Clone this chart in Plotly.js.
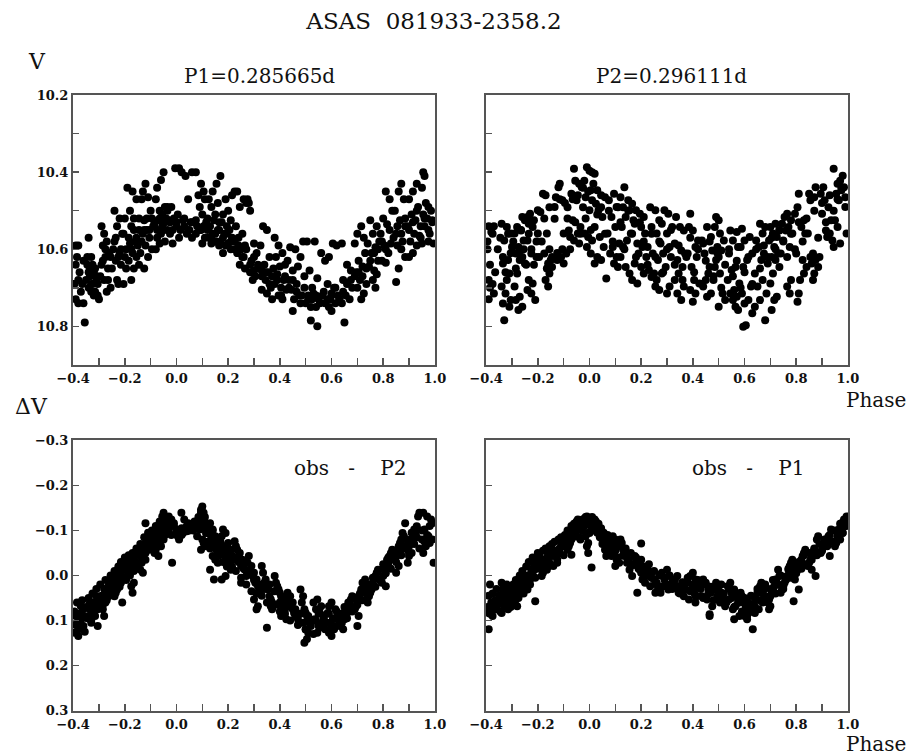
<!DOCTYPE html>
<html>
<head>
<meta charset="utf-8">
<script src="https://cdn.plot.ly/plotly-3.0.1.min.js"></script>
<style>html,body{margin:0;padding:0;background:#fff}#chart{width:918px;height:755px}</style>
</head>
<body>
<div id="chart"></div>
<script>
// ---- Data ----
const mainTitle = "ASAS\u00a0\u00a0081933-2358.2";
const panelTitles = ["P1=0.285665d", "P2=0.296111d", "obs\u00a0\u00a0\u00a0-\u00a0\u00a0\u00a0\u00a0P2", "obs\u00a0\u00a0\u00a0-\u00a0\u00a0\u00a0\u00a0P1"];

// Panel 1: V folded with P1
const p1Phase = [
-0.39,-0.38,-0.39,-0.38,-0.39,-0.38,-0.36,-0.37,-0.355,
-0.34,-0.33,-0.345,-0.32,-0.335,-0.31,-0.325,-0.34,-0.315,-0.33,-0.305,-0.32,-0.30,-0.31,-0.335,-0.345,
-0.29,-0.28,-0.27,-0.285,-0.26,-0.275,-0.29,-0.25,-0.265,-0.28,-0.255,-0.27,
-0.19,-0.24,-0.22,-0.20,-0.23,-0.21,-0.24,-0.22,-0.2,-0.235,-0.215,-0.195,-0.23,-0.225,-0.205,
-0.17,-0.155,-0.18,-0.165,-0.145,-0.175,-0.16,-0.18,-0.15,-0.17,-0.155,-0.185,-0.145,-0.165,-0.175,
-0.12,-0.13,-0.11,-0.135,-0.1,-0.125,-0.09,-0.115,-0.13,-0.105,-0.12,-0.095,-0.14,-0.11,-0.125,
-0.05,-0.06,-0.075,-0.08,-0.045,-0.065,-0.055,-0.04,-0.07,-0.085,-0.05,-0.06,-0.075,-0.045,-0.065,-0.08,
-0.005,0.01,-0.02,-0.035,0.005,-0.01,-0.03,0.0,-0.025,0.01,-0.015,-0.035,
0.02,0.035,0.06,0.045,0.025,0.055,0.03,0.05,0.04,0.06,
0.075,0.095,0.105,0.085,0.11,0.09,0.1,0.075,0.115,0.08,0.095,0.11,0.1,
0.155,0.14,0.125,0.16,0.135,0.15,0.12,0.145,0.165,0.13,0.16,0.14,0.125,0.155,0.135,0.165,
0.17,0.215,0.19,0.2,0.18,0.21,0.175,0.195,0.205,0.185,0.215,0.17,0.2,0.19,0.21,0.18,
0.225,0.235,0.26,0.27,0.245,0.23,0.255,0.24,0.225,0.265,0.25,0.235,0.26,0.245,0.265,
0.275,0.28,0.285,0.3,0.31,0.29,0.315,0.3,0.285,0.305,0.295,
0.335,0.35,0.325,0.36,0.34,0.33,0.355,0.37,0.345,0.365,0.33,0.35,0.37,
0.38,0.395,0.41,0.385,0.42,0.4,0.39,0.415,0.38,0.405,0.425,0.395,0.41,
0.44,0.46,0.43,0.47,0.45,0.435,0.465,0.445,0.475,0.455,0.45,
0.49,0.505,0.48,0.515,0.495,0.525,0.485,0.51,0.5,0.52,0.52,
0.535,0.56,0.575,0.545,0.53,0.565,0.55,0.575,0.54,0.545,
0.605,0.62,0.59,0.585,0.61,0.6,0.625,0.595,0.615,0.59,0.6,
0.64,0.66,0.675,0.645,0.68,0.655,0.67,0.64,0.65,
0.715,0.7,0.725,0.69,0.73,0.705,0.72,0.695,0.71,0.735,0.7,0.725,0.715,
0.75,0.775,0.76,0.785,0.74,0.77,0.755,0.78,0.745,0.765,0.775,0.76,0.77,
0.81,0.825,0.835,0.8,0.815,0.79,0.83,0.805,0.82,0.795,0.81,0.85,
0.87,0.86,0.88,0.845,0.865,0.885,0.85,0.875,0.855,0.87,0.885,0.86,
0.93,0.915,0.9,0.935,0.91,0.925,0.895,0.92,0.94,0.905,0.93,0.915,0.9,
0.955,0.96,0.95,0.965,0.975,0.985,0.955,0.97,0.99,0.96,0.98,0.945,0.975,0.95,0.995,
-0.395,-0.385,-0.375,-0.365,-0.36,-0.35,-0.34,-0.33,-0.325,-0.315,
-0.305,-0.295,-0.285,-0.275,-0.265,-0.255,-0.245,-0.235,-0.225,-0.215,
-0.205,-0.195,-0.185,-0.175,-0.165,-0.155,-0.145,-0.135,-0.125,-0.115,
-0.105,-0.095,-0.085,-0.075,-0.065,-0.055,-0.045,-0.035,-0.025,-0.015,
0.0,0.015,0.03,0.045,0.06,0.075,0.09,0.105,0.12,0.135,0.15,0.165,0.18,0.195,0.21,0.225,0.24,0.255,0.27,0.285,
0.3,0.315,0.33,0.345,0.36,0.375,0.39,0.405,0.42,0.435,0.45,0.465,0.48,0.495,0.51,0.525,0.54,0.555,0.57,0.585,
0.6,0.615,0.63,0.645,0.66,0.675,0.69,0.705,0.72,0.735,0.75,0.765,0.78,0.795,0.81,0.825,0.84,0.855,0.87,0.885,
0.9,0.915,0.93,0.945,0.96,0.975,0.99
];
const p1V = [
10.59,10.59,10.64,10.68,10.73,10.74,10.74,10.71,10.79,
10.57,10.62,10.64,10.66,10.67,10.68,10.69,10.70,10.71,10.71,10.72,10.72,10.73,10.67,10.65,10.62,
10.54,10.56,10.58,10.59,10.61,10.62,10.64,10.65,10.65,10.68,10.70,10.71,
10.44,10.50,10.52,10.52,10.54,10.56,10.58,10.61,10.62,10.63,10.64,10.65,10.68,10.69,10.69,
10.45,10.47,10.50,10.52,10.52,10.54,10.58,10.585,10.59,10.61,10.62,10.63,10.64,10.65,10.68,
10.43,10.45,10.465,10.47,10.50,10.525,10.54,10.55,10.56,10.57,10.59,10.60,10.61,10.62,10.65,
10.40,10.42,10.44,10.47,10.49,10.50,10.51,10.52,10.525,10.54,10.55,10.56,10.57,10.58,10.585,10.60,
10.39,10.39,10.49,10.50,10.51,10.52,10.525,10.54,10.56,10.57,10.585,10.49,
10.40,10.41,10.40,10.47,10.525,10.53,10.54,10.55,10.56,10.57,
10.40,10.43,10.45,10.46,10.47,10.49,10.51,10.525,10.53,10.54,10.55,10.57,10.585,
10.43,10.45,10.47,10.48,10.49,10.51,10.52,10.525,10.53,10.54,10.55,10.56,10.57,10.58,10.585,10.59,
10.41,10.46,10.47,10.50,10.51,10.525,10.53,10.54,10.55,10.56,10.57,10.58,10.585,10.59,10.60,10.61,
10.45,10.45,10.47,10.48,10.49,10.54,10.56,10.57,10.58,10.59,10.60,10.61,10.62,10.64,10.65,
10.47,10.48,10.50,10.585,10.61,10.63,10.65,10.655,10.66,10.67,10.68,
10.54,10.55,10.59,10.62,10.64,10.655,10.66,10.67,10.68,10.70,10.705,10.715,10.73,
10.57,10.59,10.61,10.62,10.64,10.645,10.665,10.68,10.69,10.70,10.705,10.72,10.73,
10.595,10.60,10.63,10.645,10.655,10.68,10.69,10.705,10.72,10.73,10.76,
10.58,10.58,10.62,10.655,10.67,10.70,10.72,10.73,10.74,10.75,10.785,
10.58,10.61,10.63,10.675,10.715,10.72,10.73,10.74,10.75,10.80,
10.585,10.59,10.62,10.69,10.70,10.715,10.72,10.73,10.74,10.75,10.76,
10.585,10.64,10.655,10.68,10.70,10.72,10.73,10.74,10.79,
10.54,10.56,10.57,10.585,10.61,10.63,10.645,10.66,10.68,10.69,10.70,10.715,10.73,
10.525,10.54,10.56,10.58,10.585,10.595,10.61,10.63,10.645,10.655,10.665,10.68,10.70,
10.45,10.47,10.50,10.52,10.535,10.56,10.585,10.59,10.61,10.63,10.635,10.685,
10.43,10.45,10.47,10.50,10.525,10.54,10.56,10.58,10.59,10.60,10.62,10.65,
10.43,10.45,10.47,10.49,10.51,10.525,10.54,10.56,10.565,10.58,10.59,10.61,10.62,
10.40,10.41,10.44,10.48,10.49,10.50,10.51,10.52,10.525,10.54,10.56,10.57,10.58,10.585,10.585,
10.69,10.62,10.66,10.69,10.63,10.68,10.66,10.69,10.64,10.65,
10.69,10.67,10.63,10.60,10.68,10.62,10.60,10.57,10.62,10.60,
10.56,10.60,10.57,10.60,10.55,10.57,10.55,10.58,10.55,10.52,
10.55,10.52,10.53,10.55,10.52,10.54,10.53,10.55,10.53,10.55,
10.53,10.55,10.52,10.55,10.53,10.56,10.55,10.54,10.55,10.57,10.56,10.55,10.57,10.56,10.58,10.60,10.59,10.62,10.60,10.64,
10.62,10.64,10.67,10.66,10.69,10.65,10.68,10.72,10.67,10.70,10.68,10.71,10.74,10.70,10.72,10.73,10.72,10.74,10.71,10.73,
10.72,10.70,10.73,10.71,10.69,10.68,10.67,10.66,10.67,10.65,10.63,10.61,10.60,10.58,10.60,10.55,10.57,10.54,10.56,10.52,
10.55,10.53,10.50,10.54,10.52,10.55,10.53
];

// Panel 2: V folded with P2
const p2Phase = [
-0.39,-0.37,-0.38,-0.395,-0.39,-0.375,-0.385,-0.37,-0.39,
-0.34,-0.32,-0.305,-0.33,-0.3,-0.315,-0.335,-0.31,-0.32,-0.34,-0.325,-0.305,-0.335,-0.31,-0.33,
-0.26,-0.25,-0.28,-0.265,-0.29,-0.255,-0.275,-0.285,-0.26,-0.27,-0.25,-0.28,-0.29,-0.27,-0.285,-0.26,-0.275,
-0.2,-0.23,-0.24,-0.215,-0.235,-0.22,-0.2,-0.24,-0.225,-0.205,-0.235,-0.22,-0.24,-0.225,-0.21,
-0.18,-0.17,-0.155,-0.19,-0.165,-0.175,-0.15,-0.16,-0.145,-0.155,-0.17,-0.16,
-0.115,-0.12,-0.13,-0.105,-0.135,-0.1,-0.09,-0.11,-0.125,-0.1,
-0.06,-0.055,-0.04,-0.07,-0.05,-0.085,-0.065,-0.08,-0.045,-0.075,-0.06,-0.04,
-0.01,0.0,0.01,-0.02,-0.03,0.005,-0.015,0.01,-0.025,0.0,-0.035,-0.02,-0.005,0.01,-0.01,0.005,
0.02,0.03,0.06,0.025,0.045,0.035,0.05,0.02,0.04,0.055,0.03,0.045,0.02,0.065,
0.095,0.075,0.11,0.085,0.1,0.07,0.115,0.09,0.08,0.105,0.095,0.11,
0.135,0.12,0.15,0.165,0.13,0.155,0.14,0.17,0.125,0.16,0.145,0.13,0.12,0.14,0.155,0.165,
0.18,0.195,0.21,0.175,0.2,0.215,0.185,0.205,0.19,0.22,0.175,0.2,0.21,0.185,
0.235,0.255,0.27,0.24,0.26,0.225,0.245,0.265,0.23,0.25,0.24,0.26,0.255,0.27,
0.29,0.305,0.28,0.32,0.3,0.275,0.31,0.285,0.315,0.295,0.28,0.31,0.3,
0.335,0.35,0.365,0.33,0.355,0.37,0.34,0.36,0.345,0.33,0.365,0.34,0.355,
0.39,0.385,0.4,0.42,0.41,0.38,0.415,0.395,0.405,0.425,0.39,0.41,0.4,
0.455,0.47,0.435,0.44,0.475,0.445,0.465,0.46,0.45,0.44,0.47,0.455,
0.49,0.5,0.485,0.505,0.52,0.495,0.51,0.5,0.49,0.485,0.505,0.48,0.515,0.525,0.5,
0.545,0.57,0.555,0.575,0.54,0.565,0.55,0.535,0.58,0.56,0.545,0.57,0.555,0.565,0.575,
0.59,0.62,0.6,0.585,0.63,0.61,0.595,0.625,0.59,0.615,0.6,0.63,0.595,0.605,
0.66,0.68,0.67,0.645,0.655,0.675,0.665,0.64,0.67,0.65,0.685,0.66,0.64,0.68,
0.72,0.7,0.735,0.71,0.725,0.695,0.715,0.73,0.705,0.72,0.69,0.735,0.71,0.7,0.725,0.715,0.705,
0.765,0.755,0.78,0.745,0.77,0.76,0.785,0.75,0.775,0.74,0.78,0.765,0.775,
0.81,0.805,0.795,0.83,0.82,0.835,0.8,0.825,0.84,0.83,0.815,0.81,0.805,
0.875,0.85,0.87,0.855,0.845,0.865,0.89,0.875,0.86,0.885,0.87,0.865,
0.905,0.895,0.91,0.925,0.9,0.935,0.915,0.93,0.92,0.94,
0.945,0.98,0.97,0.96,0.985,0.975,0.955,0.99,0.965,0.95,0.96,0.995,0.97,0.945,
-0.395,-0.385,-0.375,-0.365,-0.355,-0.345,-0.335,-0.325,-0.315,-0.305,
-0.295,-0.285,-0.275,-0.265,-0.255,-0.245,-0.235,-0.225,-0.215,-0.205,
-0.195,-0.185,-0.175,-0.165,-0.155,-0.145,-0.135,-0.125,-0.115,-0.105,
-0.095,-0.085,-0.075,-0.065,-0.055,-0.045,-0.035,-0.025,-0.015,-0.005,
0.005,0.015,
0.03,0.045,0.06,0.075,0.09,0.105,0.12,0.135,0.15,0.165,
0.18,0.195,0.21,0.225,0.24,0.255,0.27,0.285,0.3,0.315,
0.33,0.345,0.36,0.375,0.39,0.405,0.42,0.435,0.45,0.465,
0.48,0.495,0.51,0.525,0.54,0.555,0.57,0.585,0.6,0.615,
0.63,0.645,0.66,0.675,0.69,0.705,0.72,0.735,0.75,0.765,
0.78,0.795,0.81,0.825,0.84,0.855,0.87,0.885,0.9,0.915,
0.93,0.945,0.96,0.975,0.99
];
const p2V = [
10.54,10.54,10.555,10.60,10.68,10.69,10.70,10.715,10.73,
10.534,10.542,10.559,10.577,10.594,10.628,10.637,10.663,10.68,10.697,10.715,10.732,10.741,10.749,10.784,
10.516,10.525,10.542,10.551,10.559,10.577,10.594,10.611,10.62,10.628,10.637,10.663,10.697,10.723,10.732,10.749,10.758,
10.499,10.508,10.516,10.525,10.534,10.542,10.559,10.577,10.611,10.62,10.68,10.689,10.706,10.715,10.732,
10.456,10.46,10.491,10.503,10.559,10.611,10.628,10.637,10.646,10.663,10.68,10.697,
10.43,10.439,10.465,10.473,10.521,10.559,10.611,10.62,10.628,10.637,
10.391,10.422,10.43,10.456,10.473,10.491,10.525,10.551,10.559,10.568,10.577,10.585,
10.387,10.396,10.40,10.422,10.439,10.447,10.465,10.473,10.491,10.499,10.542,10.559,10.568,10.577,10.594,10.611,
10.404,10.447,10.465,10.482,10.491,10.499,10.516,10.542,10.568,10.594,10.62,10.628,10.637,10.676,
10.456,10.473,10.491,10.516,10.542,10.559,10.585,10.594,10.611,10.62,10.637,10.646,
10.439,10.465,10.473,10.482,10.491,10.499,10.516,10.525,10.542,10.559,10.577,10.594,10.62,10.646,10.663,10.68,
10.499,10.508,10.516,10.534,10.542,10.559,10.585,10.594,10.611,10.62,10.637,10.646,10.663,10.689,
10.491,10.499,10.525,10.542,10.559,10.594,10.611,10.628,10.654,10.663,10.672,10.68,10.697,10.706,
10.499,10.508,10.534,10.542,10.559,10.585,10.594,10.611,10.62,10.646,10.663,10.697,10.715,
10.516,10.542,10.551,10.585,10.603,10.611,10.628,10.646,10.663,10.68,10.697,10.715,10.732,
10.508,10.542,10.551,10.577,10.594,10.611,10.62,10.646,10.68,10.689,10.706,10.715,10.736,
10.542,10.568,10.577,10.585,10.603,10.611,10.646,10.663,10.68,10.697,10.715,10.723,
10.516,10.525,10.542,10.559,10.577,10.594,10.603,10.62,10.628,10.646,10.663,10.68,10.715,10.732,10.749,
10.551,10.555,10.577,10.594,10.611,10.646,10.654,10.68,10.689,10.706,10.715,10.723,10.732,10.749,10.758,
10.547,10.568,10.577,10.594,10.611,10.628,10.646,10.697,10.715,10.732,10.741,10.766,10.801,10.797,
10.534,10.542,10.559,10.577,10.594,10.611,10.628,10.663,10.68,10.697,10.715,10.732,10.749,10.784,
10.534,10.542,10.551,10.559,10.568,10.577,10.594,10.611,10.62,10.628,10.637,10.646,10.663,10.689,10.723,10.732,10.758,
10.508,10.516,10.525,10.534,10.542,10.551,10.559,10.577,10.594,10.611,10.68,10.697,10.715,
10.456,10.491,10.508,10.525,10.542,10.559,10.611,10.628,10.646,10.663,10.68,10.715,10.736,
10.439,10.456,10.465,10.473,10.559,10.611,10.62,10.628,10.637,10.646,10.663,10.68,
10.439,10.456,10.473,10.491,10.508,10.525,10.551,10.559,10.568,10.577,
10.391,10.409,10.422,10.43,10.439,10.447,10.456,10.465,10.473,10.525,10.542,10.559,10.585,10.594,
10.58,10.64,10.56,10.66,10.60,10.57,10.62,10.66,10.56,10.61,
10.58,10.65,10.61,10.55,10.60,10.64,10.56,10.60,10.64,10.58,
10.62,10.58,10.52,10.65,10.60,10.62,10.49,10.61,10.47,10.60,
10.48,10.52,10.60,10.47,10.53,10.46,10.56,10.44,10.52,10.45,
10.55,10.43,
10.51,10.46,10.56,10.50,10.58,10.49,10.53,10.60,10.50,10.56,
10.62,10.53,10.58,10.64,10.56,10.62,10.58,10.66,10.60,10.55,
10.64,10.59,10.68,10.62,10.57,10.66,10.60,10.69,10.63,10.58,
10.67,10.61,10.70,10.64,10.60,10.67,10.63,10.70,10.66,10.62,
10.69,10.60,10.65,10.59,10.62,10.57,10.60,10.55,10.58,10.62,
10.56,10.60,10.53,10.58,10.52,10.62,10.50,10.57,10.48,10.53,
10.46,10.50,10.47,10.44,10.49
];

// Panel 3: residuals (obs - P2) folded with P1
const p3Phase = [
-0.37,-0.36,-0.39,-0.375,-0.385,-0.36,-0.395,-0.38,
-0.31,-0.3,-0.325,-0.315,-0.335,-0.32,-0.34,-0.33,-0.305,
-0.25,-0.255,-0.26,-0.27,-0.265,-0.28,-0.275,-0.29,-0.285,-0.28,
-0.2,-0.21,-0.205,-0.215,-0.22,-0.225,-0.215,-0.23,-0.235,-0.24,-0.21,
-0.15,-0.16,-0.165,-0.17,-0.155,-0.175,-0.18,-0.185,-0.19,-0.165,-0.175,-0.17,
-0.12,-0.1,-0.11,-0.095,-0.115,-0.105,-0.125,-0.13,-0.12,-0.135,-0.14,-0.13,
-0.05,-0.055,-0.045,-0.06,-0.04,-0.065,-0.07,-0.05,-0.075,-0.06,-0.08,-0.085,-0.07,-0.017,
-0.03,-0.02,-0.01,-0.025,0.0,-0.035,0.005,0.01,
0.03,0.045,0.055,0.02,0.06,0.04,0.025,0.019,
0.1,0.095,0.105,0.085,0.11,0.075,0.09,0.115,0.08,0.1,0.105,0.11,0.095,
0.13,0.12,0.14,0.125,0.15,0.135,0.16,0.145,0.155,0.165,0.14,0.15,0.16,0.13,0.145,
0.18,0.19,0.175,0.2,0.185,0.21,0.195,0.215,0.2,0.205,0.21,0.19,0.175,
0.225,0.23,0.235,0.245,0.24,0.255,0.26,0.25,0.265,0.27,0.25,
0.28,0.275,0.29,0.285,0.3,0.295,0.31,0.305,0.315,0.32,0.3,0.315,0.31,
0.33,0.335,0.345,0.34,0.35,0.355,0.36,0.365,0.37,0.365,0.35,
0.38,0.385,0.39,0.395,0.4,0.405,0.41,0.4,0.415,0.42,0.405,0.425,
0.43,0.44,0.435,0.45,0.445,0.46,0.455,0.465,0.47,0.475,
0.48,0.49,0.485,0.495,0.5,0.505,0.51,0.515,0.52,0.5,0.51,0.505,0.495,
0.545,0.53,0.56,0.54,0.555,0.57,0.535,0.565,0.55,0.575,0.545,
0.6,0.59,0.615,0.585,0.625,0.605,0.595,0.62,0.61,0.59,0.6,
0.68,0.675,0.665,0.67,0.655,0.66,0.645,0.65,0.64,0.635,0.645,
0.73,0.72,0.735,0.715,0.725,0.705,0.71,0.7,0.695,0.69,0.705,0.7,
0.78,0.775,0.77,0.785,0.76,0.765,0.755,0.75,0.745,0.74,
0.835,0.83,0.825,0.815,0.82,0.81,0.805,0.8,0.795,0.81,
0.885,0.875,0.88,0.87,0.865,0.885,0.86,0.855,0.85,0.845,0.86,0.85,
0.94,0.935,0.93,0.92,0.925,0.915,0.91,0.905,0.9,0.895,0.91,0.9,0.895,
0.955,0.97,0.985,0.99,0.96,0.975,0.95,0.98,0.965,0.955,0.995,
-0.395,-0.39,-0.385,-0.38,-0.375,-0.37,-0.365,-0.36,-0.355,-0.35,-0.345,-0.34,-0.335,-0.33,-0.325,-0.32,-0.315,-0.31,-0.305,-0.3,
-0.295,-0.29,-0.285,-0.28,-0.275,-0.27,-0.265,-0.26,-0.255,-0.25,-0.245,-0.24,-0.235,-0.23,-0.225,-0.22,-0.215,-0.21,-0.205,-0.2,
-0.195,-0.19,-0.185,-0.18,-0.175,-0.17,-0.165,-0.16,-0.155,-0.15,-0.145,-0.14,-0.135,-0.13,-0.125,-0.12,-0.115,-0.11,-0.105,-0.1,
-0.095,-0.09,-0.085,-0.08,-0.075,-0.07,-0.065,-0.06,-0.055,-0.05,-0.045,-0.04,-0.03,-0.02,-0.01,0.0,0.01,0.02,0.03,0.04,
0.05,0.06,0.065,0.07,0.08,0.085,0.09,0.095,0.1,0.105,0.11,0.115,0.12,0.125,0.13,0.135,0.14,0.145,0.15,0.155,
0.16,0.165,0.17,0.175,0.18,0.185,0.19,0.195,0.2,0.205,0.21,0.215,0.22,0.23,0.24,0.25,0.26,0.27,0.28,0.29,
0.3,0.31,0.32,0.33,0.34,0.35,0.36,0.37,0.38,0.39,0.4,0.41,0.42,0.43,0.44,0.45,0.46,0.47,0.48,0.49,
0.5,0.51,0.52,0.53,0.54,0.55,0.56,0.57,0.58,0.59,0.6,0.61,0.62,0.63,0.64,0.65,0.66,0.67,0.68,0.69,
0.7,0.71,0.72,0.73,0.74,0.75,0.76,0.77,0.78,0.79,0.8,0.81,0.82,0.83,0.84,0.85,0.86,0.87,0.88,0.89,
0.9,0.91,0.92,0.93,0.94,0.95,0.96,0.97,0.98,0.99
];
const p3dV = [
0.068,0.075,0.09,0.097,0.105,0.112,0.127,0.134,
0.046,0.053,0.06,0.068,0.075,0.083,0.09,0.105,0.112,
0.009,0.016,0.031,0.038,0.046,0.053,0.06,0.068,0.075,0.09,
-0.035,-0.028,-0.013,-0.006,0.001,0.009,0.016,0.031,0.038,0.046,0.06,
-0.054,-0.05,-0.043,-0.035,-0.028,-0.021,-0.013,-0.006,0.001,0.016,0.024,0.038,
-0.116,-0.087,-0.08,-0.072,-0.065,-0.057,-0.05,-0.043,-0.035,-0.028,-0.013,-0.006,
-0.139,-0.131,-0.124,-0.109,-0.102,-0.094,-0.087,-0.08,-0.072,-0.065,-0.057,-0.05,-0.043,-0.028,
-0.131,-0.124,-0.116,-0.109,-0.102,-0.094,-0.087,-0.08,
-0.124,-0.116,-0.109,-0.105,-0.102,-0.098,-0.094,-0.139,
-0.153,-0.146,-0.139,-0.124,-0.116,-0.109,-0.102,-0.094,-0.087,-0.08,-0.072,-0.065,-0.057,
-0.116,-0.109,-0.102,-0.094,-0.087,-0.08,-0.072,-0.065,-0.057,-0.05,-0.043,-0.035,-0.028,-0.013,0.009,
-0.102,-0.094,-0.087,-0.072,-0.065,-0.057,-0.05,-0.043,-0.035,-0.028,-0.013,0.001,0.009,
-0.076,-0.065,-0.057,-0.05,-0.043,-0.035,-0.028,-0.021,-0.013,0.001,0.016,
-0.043,-0.028,-0.021,-0.013,-0.006,0.001,0.009,0.016,0.024,0.031,0.053,0.068,0.075,
-0.021,-0.006,0.009,0.016,0.024,0.031,0.046,0.053,0.06,0.068,0.116,
0.001,0.016,0.024,0.031,0.038,0.046,0.053,0.06,0.068,0.075,0.09,0.097,
0.038,0.046,0.053,0.06,0.068,0.075,0.083,0.09,0.097,0.105,
0.031,0.046,0.06,0.075,0.083,0.09,0.097,0.105,0.112,0.119,0.127,0.141,0.149,
0.053,0.06,0.068,0.075,0.083,0.09,0.097,0.105,0.112,0.119,0.127,
0.06,0.068,0.075,0.083,0.09,0.097,0.105,0.112,0.119,0.127,0.134,
0.046,0.053,0.06,0.068,0.075,0.083,0.09,0.097,0.105,0.112,0.119,
0.009,0.016,0.024,0.031,0.038,0.046,0.053,0.06,0.068,0.075,0.09,0.112,
-0.013,-0.006,0.001,0.009,0.016,0.024,0.031,0.038,0.046,0.06,
-0.057,-0.05,-0.043,-0.035,-0.028,-0.021,-0.013,0.001,0.016,0.024,
-0.116,-0.094,-0.087,-0.08,-0.072,-0.065,-0.057,-0.05,-0.043,-0.035,-0.021,-0.006,
-0.139,-0.131,-0.109,-0.102,-0.094,-0.087,-0.08,-0.072,-0.065,-0.057,-0.05,-0.043,-0.028,
-0.139,-0.131,-0.124,-0.116,-0.102,-0.087,-0.08,-0.072,-0.065,-0.05,-0.028,
0.08,0.11,0.06,0.12,0.085,0.10,0.055,0.09,0.125,0.07,0.095,0.05,0.06,0.10,0.04,0.065,0.09,0.03,0.075,0.055,
0.02,0.045,0.065,0.03,0.01,0.055,0.025,0.045,0.0,0.035,0.02,-0.01,0.015,0.0,-0.02,0.025,-0.03,0.005,-0.015,-0.04,
0.01,-0.025,-0.045,0.0,-0.035,-0.05,-0.01,-0.03,-0.06,-0.02,-0.045,-0.07,-0.04,-0.06,-0.085,-0.05,-0.075,-0.095,-0.06,-0.08,
-0.1,-0.065,-0.09,-0.11,-0.08,-0.1,-0.12,-0.085,-0.105,-0.125,-0.09,-0.115,-0.1,-0.09,-0.11,-0.095,-0.1,-0.09,-0.1,-0.11,
-0.1,-0.115,-0.1,-0.12,-0.105,-0.13,-0.115,-0.14,-0.125,-0.11,-0.13,-0.095,-0.075,-0.1,-0.06,-0.085,-0.1,-0.07,-0.04,-0.08,
-0.06,-0.045,-0.075,-0.055,-0.03,-0.06,-0.04,-0.02,-0.055,-0.035,-0.045,-0.02,-0.035,-0.01,-0.03,0.005,-0.015,0.02,-0.005,0.035,
0.01,0.04,0.02,0.045,0.03,0.06,0.02,0.075,0.035,0.065,0.08,0.05,0.085,0.065,0.1,0.075,0.09,0.11,0.085,0.105,
0.12,0.09,0.105,0.13,0.1,0.085,0.115,0.095,0.105,0.085,0.115,0.095,0.08,0.105,0.085,0.07,0.095,0.06,0.08,0.05,
0.065,0.04,0.055,0.03,0.045,0.02,0.005,0.025,-0.01,0.01,-0.025,-0.005,-0.04,-0.015,-0.05,-0.03,-0.065,-0.045,-0.06,-0.08,
-0.05,-0.095,-0.07,-0.085,-0.06,-0.1,-0.075,-0.09,-0.11,-0.08
];

// Panel 4: residuals (obs - P1) folded with P2
const p4Phase = [
-0.385,-0.37,-0.38,-0.36,-0.39,-0.375,-0.39,
-0.34,-0.3,-0.32,-0.335,-0.31,-0.325,-0.305,-0.33,-0.315,-0.34,
-0.25,-0.26,-0.27,-0.255,-0.265,-0.28,-0.275,-0.285,-0.29,-0.28,
-0.2,-0.195,-0.21,-0.205,-0.215,-0.22,-0.225,-0.23,-0.235,-0.24,-0.21,
-0.15,-0.16,-0.145,-0.17,-0.155,-0.175,-0.165,-0.18,-0.185,
-0.095,-0.1,-0.105,-0.11,-0.12,-0.115,-0.13,-0.125,-0.14,
-0.045,-0.06,-0.05,-0.065,-0.055,-0.07,-0.075,-0.08,-0.085,-0.07,
-0.01,0.005,-0.02,0.01,-0.025,-0.03,0.0,-0.015,-0.035,-0.005,-0.01,-0.005,0.008,
0.02,0.025,0.03,0.04,0.035,0.045,0.05,0.055,0.06,0.065,
0.09,0.1,0.075,0.11,0.08,0.095,0.085,0.105,0.115,0.1,
0.12,0.125,0.13,0.14,0.135,0.15,0.145,0.16,0.155,0.165,
0.2,0.175,0.18,0.19,0.185,0.195,0.2,0.21,0.205,0.215,0.185,
0.225,0.24,0.23,0.25,0.26,0.235,0.265,0.255,
0.3,0.28,0.31,0.29,0.32,0.285,0.305,0.275,
0.34,0.33,0.36,0.35,0.37,0.345,0.365,
0.4,0.39,0.41,0.38,0.42,0.395,0.405,0.415,0.385,0.41,
0.44,0.45,0.43,0.46,0.47,0.435,0.455,0.475,0.465,0.465,
0.49,0.5,0.485,0.51,0.495,0.52,0.505,0.525,
0.545,0.535,0.56,0.55,0.57,0.54,0.575,0.565,0.555,0.58,0.56,
0.585,0.59,0.6,0.595,0.61,0.605,0.615,0.6,0.61,0.632,
0.665,0.66,0.675,0.65,0.68,0.645,0.67,0.64,0.655,0.64,
0.73,0.735,0.72,0.725,0.715,0.71,0.705,0.7,0.695,0.69,0.7,0.695,
0.785,0.78,0.775,0.77,0.775,0.765,0.76,0.755,0.75,0.745,0.74,0.79,
0.835,0.83,0.825,0.82,0.81,0.815,0.805,0.8,0.795,0.81,
0.885,0.88,0.87,0.865,0.86,0.855,0.85,0.845,0.86,0.875,
0.935,0.925,0.915,0.92,0.905,0.9,0.895,0.93,
0.995,0.985,0.975,0.99,0.965,0.98,0.96,0.97,0.955,0.95,
-0.395,-0.39,-0.385,-0.38,-0.375,-0.37,-0.365,-0.36,-0.355,-0.35,-0.345,-0.34,-0.335,-0.33,-0.325,-0.32,-0.315,-0.31,-0.305,-0.3,
-0.295,-0.29,-0.285,-0.28,-0.275,-0.27,-0.265,-0.26,-0.255,-0.25,-0.245,-0.24,-0.235,-0.23,-0.225,-0.22,-0.215,-0.21,-0.205,-0.2,
-0.195,-0.19,-0.185,-0.18,-0.175,-0.17,-0.165,-0.16,-0.155,-0.15,-0.145,-0.14,-0.135,-0.13,-0.125,-0.12,-0.115,-0.11,-0.105,-0.1,
-0.095,-0.09,-0.085,-0.08,-0.075,-0.07,-0.065,-0.06,-0.055,-0.05,-0.045,-0.04,-0.035,-0.03,-0.025,-0.02,-0.015,-0.01,-0.005,0.0,
0.005,0.01,0.015,0.02,0.025,0.03,0.035,0.04,0.045,0.05,0.055,0.06,0.065,0.07,0.075,0.08,0.085,0.09,0.095,0.1,
0.11,0.12,0.13,0.14,0.15,0.16,0.17,0.18,0.19,0.2,0.21,0.22,0.23,0.24,0.25,0.26,0.27,0.28,0.29,0.3,
0.31,0.32,0.33,0.34,0.35,0.36,0.37,0.38,0.39,0.4,0.41,0.42,0.43,0.44,0.45,0.46,0.47,0.48,0.49,0.5,
0.51,0.52,0.53,0.54,0.55,0.56,0.57,0.58,0.59,0.6,0.605,0.61,0.615,0.62,0.625,0.63,0.64,0.65,0.66,0.67,
0.68,0.69,0.7,0.71,0.72,0.73,0.74,0.75,0.76,0.77,0.78,0.79,0.8,0.81,0.82,0.83,0.84,0.85,0.86,0.87,
0.88,0.89,0.9,0.91,0.92,0.93,0.94,0.95,0.96,0.97,0.98,0.99,0.995
];
const p4dV = [
0.02,0.06,0.068,0.075,0.083,0.09,0.119,
0.016,0.024,0.031,0.038,0.046,0.053,0.06,0.068,0.075,0.083,
0.001,0.009,0.016,0.024,0.031,0.038,0.046,0.053,0.06,0.068,
-0.05,-0.043,-0.028,-0.021,-0.013,-0.006,0.001,0.009,0.016,0.031,0.057,
-0.057,-0.05,-0.043,-0.035,-0.028,-0.021,-0.013,-0.006,0.001,
-0.087,-0.08,-0.072,-0.065,-0.057,-0.05,-0.043,-0.028,-0.021,
-0.124,-0.109,-0.102,-0.094,-0.087,-0.08,-0.072,-0.065,-0.057,-0.046,
-0.131,-0.127,-0.124,-0.116,-0.109,-0.102,-0.094,-0.087,-0.08,-0.072,-0.065,-0.05,-0.018,
-0.124,-0.116,-0.109,-0.102,-0.094,-0.087,-0.08,-0.072,-0.057,-0.043,
-0.087,-0.08,-0.072,-0.065,-0.057,-0.05,-0.043,-0.035,-0.028,-0.021,
-0.08,-0.072,-0.057,-0.05,-0.043,-0.035,-0.028,-0.021,-0.013,0.001,
-0.071,-0.043,-0.035,-0.028,-0.021,-0.013,-0.006,0.001,0.009,0.016,0.038,
-0.013,-0.006,0.001,0.009,0.016,0.024,0.031,0.038,
-0.013,-0.006,0.001,0.009,0.016,0.024,0.031,0.038,
0.001,0.009,0.016,0.024,0.031,0.038,0.046,
-0.006,0.001,0.009,0.016,0.024,0.031,0.038,0.046,0.053,0.06,
0.009,0.016,0.024,0.031,0.038,0.046,0.053,0.068,0.086,0.09,
0.016,0.024,0.031,0.038,0.046,0.053,0.06,0.068,
0.016,0.024,0.031,0.038,0.046,0.053,0.06,0.068,0.075,0.09,0.097,
0.038,0.046,0.053,0.06,0.068,0.075,0.083,0.09,0.097,0.119,
0.016,0.024,0.031,0.038,0.046,0.053,0.06,0.068,0.075,0.083,
-0.013,0.001,0.009,0.016,0.024,0.031,0.038,0.046,0.053,0.06,0.068,0.075,
-0.035,-0.028,-0.021,-0.013,-0.006,0.001,0.009,0.016,0.024,0.031,0.038,0.057,
-0.057,-0.05,-0.043,-0.035,-0.028,-0.021,-0.013,-0.006,0.009,0.031,
-0.087,-0.08,-0.057,-0.05,-0.043,-0.035,-0.028,-0.021,-0.013,0.001,
-0.102,-0.087,-0.08,-0.072,-0.065,-0.057,-0.05,-0.043,
-0.131,-0.124,-0.116,-0.109,-0.102,-0.094,-0.087,-0.08,-0.072,-0.065,
0.07,0.045,0.085,0.06,0.04,0.075,0.055,0.03,0.065,0.045,0.08,0.055,0.03,0.065,0.045,0.02,0.055,0.035,0.07,0.045,
0.02,0.04,0.01,0.03,0.05,0.0,0.02,-0.01,0.04,0.01,-0.02,0.0,-0.03,0.02,-0.01,-0.04,-0.02,0.005,-0.035,-0.015,
-0.045,-0.02,-0.035,-0.055,-0.03,-0.06,-0.04,-0.02,-0.065,-0.045,-0.07,-0.05,-0.075,-0.055,-0.035,-0.08,-0.06,-0.085,-0.065,-0.045,
-0.09,-0.07,-0.1,-0.08,-0.095,-0.11,-0.085,-0.115,-0.095,-0.12,-0.105,-0.085,-0.12,-0.1,-0.125,-0.11,-0.13,-0.12,-0.095,-0.125,
-0.11,-0.13,-0.115,-0.1,-0.12,-0.095,-0.115,-0.085,-0.105,-0.07,-0.095,-0.08,-0.06,-0.09,-0.05,-0.075,-0.06,-0.045,-0.07,-0.055,
-0.04,-0.065,-0.045,-0.06,-0.03,-0.05,-0.025,-0.04,-0.015,-0.035,-0.02,0.0,-0.025,0.005,-0.01,0.02,0.0,0.025,0.005,0.02,
0.0,0.03,0.01,0.025,0.04,0.015,0.03,0.005,0.035,0.02,0.045,0.01,0.03,0.05,0.02,0.04,0.025,0.055,0.03,0.045,
0.02,0.04,0.06,0.03,0.05,0.07,0.04,0.06,0.08,0.05,0.07,0.09,0.06,0.08,0.045,0.065,0.05,0.03,0.055,0.04,
0.02,0.05,0.03,0.01,0.04,0.02,0.0,0.03,0.01,-0.015,0.005,-0.02,-0.005,-0.03,-0.015,-0.045,-0.025,-0.05,-0.035,-0.06,
-0.045,-0.07,-0.055,-0.08,-0.065,-0.09,-0.075,-0.1,-0.085,-0.115,-0.095,-0.11,-0.125
];

// ---- Styling and layout ----
const W = 918, H = 755;
const SERIF = "DejaVu Serif, Liberation Serif, serif";
const AXC = "#555";
const px = v => v / W;
const py = v => 1 - v / H;
const TICKFONT = {family: SERIF, size: 13, weight: "bold", color: "#111"};

function xAxis(domain, anchor) {
  return {
    domain: domain, anchor: anchor, range: [-0.4005, 1.0005],
    tickmode: "linear", tick0: -0.4, dtick: 0.2, tickformat: ".1f",
    ticks: "inside", ticklen: 7, tickwidth: 1.5, tickcolor: AXC,
    minor: {dtick: 0.1, ticks: "inside", ticklen: 7, tickwidth: 1.5, tickcolor: AXC, showgrid: false},
    showline: true, linecolor: AXC, linewidth: 2, mirror: true,
    showgrid: false, zeroline: false, tickfont: TICKFONT
  };
}
function yAxisTop(domain, anchor, labels) {
  return {
    domain: domain, anchor: anchor, range: [10.9005, 10.1995],
    tickmode: "linear", tick0: 10.2, dtick: 0.2, tickformat: ".1f",
    ticks: "inside", ticklen: 6, tickwidth: 1.5, tickcolor: AXC,
    minor: {dtick: 0.1, ticks: "inside", ticklen: 6, tickwidth: 1.5, tickcolor: AXC, showgrid: false},
    showticklabels: labels,
    showline: true, linecolor: AXC, linewidth: 2, mirror: true,
    showgrid: false, zeroline: false, tickfont: TICKFONT
  };
}
function yAxisBot(domain, anchor, labels) {
  return {
    domain: domain, anchor: anchor, range: [0.3005, -0.3005],
    tickmode: "linear", tick0: -0.3, dtick: 0.1, tickformat: ".1f",
    ticks: "inside", ticklen: 6, tickwidth: 1.5, tickcolor: AXC,
    showticklabels: labels,
    showline: true, linecolor: AXC, linewidth: 2, mirror: true,
    showgrid: false, zeroline: false, tickfont: TICKFONT
  };
}

const xL = [px(73), px(435)], xR = [px(486), px(848)];
const yT = [py(365), py(95)], yB = [py(711), py(440)];

const mk = {color: "#000", size: 8, line: {width: 0}};
const traces = [
  {x: p1Phase, y: p1V, xaxis: "x", yaxis: "y", mode: "markers", type: "scatter", marker: mk, hoverinfo: "skip"},
  {x: p2Phase, y: p2V, xaxis: "x2", yaxis: "y2", mode: "markers", type: "scatter", marker: mk, hoverinfo: "skip"},
  {x: p3Phase, y: p3dV, xaxis: "x3", yaxis: "y3", mode: "markers", type: "scatter", marker: mk, hoverinfo: "skip"},
  {x: p4Phase, y: p4dV, xaxis: "x4", yaxis: "y4", mode: "markers", type: "scatter", marker: mk, hoverinfo: "skip"}
];

function ann(text, x, y, size) {
  return {text: text, xref: "paper", yref: "paper", x: px(x), y: py(y), xanchor: "center", yanchor: "middle",
          showarrow: false, font: {family: SERIF, size: size, color: "#111"}};
}

const layout = {
  width: W, height: H,
  margin: {l: 0, r: 0, t: 0, b: 0},
  paper_bgcolor: "#fff", plot_bgcolor: "#fff",
  showlegend: false,
  title: {text: mainTitle, x: px(434), y: py(21), xanchor: "center", yanchor: "middle",
          font: {family: SERIF, size: 23, color: "#111"}},
  xaxis: xAxis(xL, "y"), yaxis: yAxisTop(yT, "x", true),
  xaxis2: xAxis(xR, "y2"), yaxis2: yAxisTop(yT, "x2", false),
  xaxis3: xAxis(xL, "y3"), yaxis3: yAxisBot(yB, "x3", true),
  xaxis4: xAxis(xR, "y4"), yaxis4: yAxisBot(yB, "x4", false),
  annotations: [
    ann("V", 37, 62, 22),
    ann(panelTitles[0], 259, 76, 20),
    ann(panelTitles[1], 671, 76, 20),
    ann("\u0394V", 31, 407, 22),
    ann(panelTitles[2], 350, 468, 20),
    ann(panelTitles[3], 748, 468, 20),
    ann("Phase", 876, 400, 20),
    ann("Phase", 876, 744, 20)
  ]
};

Plotly.newPlot("chart", traces, layout, {staticPlot: true, displayModeBar: false});
</script>
</body>
</html>
